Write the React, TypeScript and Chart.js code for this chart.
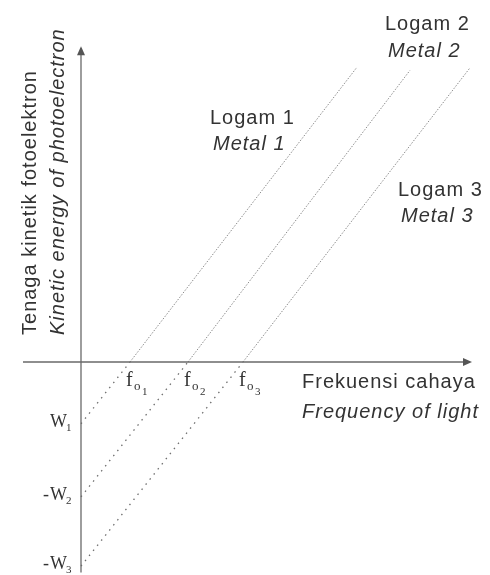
import React, { useEffect, useRef } from "react";
import { Chart, registerables } from "chart.js";

Chart.register(...registerables);

// ---- Data (arbitrary units: x = frequency, y = kinetic energy) ----
const metalIds = ["1", "2", "3"];
const logamLabels = ["Logam 1", "Logam 2", "Logam 3"];
const metalLabels = ["Metal 1", "Metal 2", "Metal 3"];
const thresholdFreq = [0.98, 2.14, 3.24]; // f0 where line crosses the frequency axis
const workFunction = [0.98, 2.14, 3.24]; // |W| intercept on the energy axis
const endFreq = [5.52, 6.58, 7.78]; // frequency at upper end of each line
const endEnergy = [4.68, 4.63, 4.67]; // energy at upper end of each line
const wSigns = ["", "-", "-"];
const xTitle = ["Frekuensi cahaya", "Frequency of light"];
const yTitle = ["Tenaga kinetik fotoelektron", "Kinetic energy of photoelectron"];

// ---- Layout (data units) ----
const X_RANGE = [-1.62, 8.18];
const Y_RANGE = [-3.381, 5.746];
const X_AXIS_EXTENT = [-1.16, 7.78];
const Y_AXIS_EXTENT = [-3.34, 4.98];
const LABEL_ANCHORS = [
  { x: 2.58, y: 3.87 },
  { x: 6.08, y: 5.35 },
  { x: 6.34, y: 2.73 },
];

const SANS = "'Liberation Sans', Arial, sans-serif";
const SERIF = "'Liberation Serif', 'Times New Roman', serif";
const TEXT = "#333";

const overlayPlugin = {
  id: "physicsOverlay",
  afterDatasetsDraw(chart: any) {
    const ctx: CanvasRenderingContext2D = chart.ctx;
    const xs = chart.scales.x;
    const ys = chart.scales.y;
    const ox = xs.getPixelForValue(0);
    const oy = ys.getPixelForValue(0);

    ctx.save();
    // axes
    ctx.strokeStyle = "#6a6a6a";
    ctx.fillStyle = "#555";
    ctx.lineWidth = 1.3;
    ctx.beginPath();
    ctx.moveTo(ox, ys.getPixelForValue(Y_AXIS_EXTENT[0]));
    ctx.lineTo(ox, ys.getPixelForValue(Y_AXIS_EXTENT[1]));
    ctx.moveTo(xs.getPixelForValue(X_AXIS_EXTENT[0]), oy);
    ctx.lineTo(xs.getPixelForValue(X_AXIS_EXTENT[1]), oy);
    ctx.stroke();
    // arrow heads
    const ty = ys.getPixelForValue(Y_AXIS_EXTENT[1]);
    ctx.beginPath();
    ctx.moveTo(ox, ty - 2);
    ctx.lineTo(ox - 4, ty + 7);
    ctx.lineTo(ox + 4, ty + 7);
    ctx.closePath();
    ctx.fill();
    const tx = xs.getPixelForValue(X_AXIS_EXTENT[1]);
    ctx.beginPath();
    ctx.moveTo(tx + 2, oy);
    ctx.lineTo(tx - 7, oy - 4);
    ctx.lineTo(tx - 7, oy + 4);
    ctx.closePath();
    ctx.fill();

    ctx.fillStyle = TEXT;
    (ctx as any).letterSpacing = "1px";
    ctx.textBaseline = "middle";
    ctx.textAlign = "left";

    // metal labels
    LABEL_ANCHORS.forEach((a, i) => {
      const px = xs.getPixelForValue(a.x);
      const py = ys.getPixelForValue(a.y);
      ctx.font = `20px ${SANS}`;
      ctx.fillText(logamLabels[i], px, py);
      ctx.font = `italic 20px ${SANS}`;
      ctx.fillText(metalLabels[i], px + 3, py + 26);
    });

    // x-axis title
    const xtx = xs.getPixelForValue(4.42);
    ctx.font = `20px ${SANS}`;
    ctx.fillText(xTitle[0], xtx, oy + 20);
    ctx.font = `italic 20px ${SANS}`;
    ctx.fillText(xTitle[1], xtx, oy + 50);

    // y-axis titles (rotated)
    const yStart = oy - 27;
    [ox - 51, ox - 23].forEach((cx, i) => {
      ctx.save();
      ctx.translate(cx, yStart);
      ctx.rotate(-Math.PI / 2);
      ctx.font = i === 0 ? `20px ${SANS}` : `italic 20px ${SANS}`;
      ctx.fillText(yTitle[i], 0, 0);
      ctx.restore();
    });

    (ctx as any).letterSpacing = "0px";
    ctx.textBaseline = "alphabetic";
    // threshold frequency tick labels
    thresholdFreq.forEach((f, i) => {
      const px = xs.getPixelForValue(f) - 4;
      ctx.font = `20px ${SERIF}`;
      ctx.fillText("f", px, oy + 24);
      ctx.font = `13px ${SERIF}`;
      ctx.fillText("o", px + 8, oy + 28);
      ctx.font = `11px ${SERIF}`;
      ctx.fillText(metalIds[i], px + 16, oy + 33);
    });

    // work function tick labels
    workFunction.forEach((w, i) => {
      const py = ys.getPixelForValue(-w) - 3;
      ctx.font = `18px ${SERIF}`;
      if (wSigns[i]) ctx.fillText("-", ox - 38, py + 6);
      ctx.fillText("W", ox - 31, py + 6);
      ctx.font = `11px ${SERIF}`;
      ctx.fillText(metalIds[i], ox - 15, py + 10);
    });
    ctx.restore();
  },
};

export default function App() {
  const ref = useRef<HTMLCanvasElement | null>(null);

  useEffect(() => {
    if (!ref.current) return;
    const datasets: any[] = [];
    metalIds.forEach((_, i) => {
      datasets.push({
        label: `lower ${i}`,
        data: [
          { x: 0, y: -workFunction[i] },
          { x: thresholdFreq[i], y: 0 },
        ],
        borderColor: "#6f6f6f",
        borderWidth: 1.3,
        borderDash: [1.5, 5],
        pointRadius: 0,
        clip: false,
      });
      datasets.push({
        label: `upper ${i}`,
        data: [
          { x: thresholdFreq[i], y: 0 },
          { x: endFreq[i], y: endEnergy[i] },
        ],
        borderColor: "#8c8c8c",
        borderWidth: 1,
        borderDash: [1.5, 1.5],
        pointRadius: 0,
        clip: false,
      });
    });

    const chart = new Chart(ref.current, {
      type: "line",
      data: { datasets },
      options: {
        animation: false,
        responsive: false,
        maintainAspectRatio: false,
        layout: { padding: 0 },
        plugins: { legend: { display: false }, tooltip: { enabled: false }, title: { display: false } },
        scales: {
          x: { type: "linear", min: X_RANGE[0], max: X_RANGE[1], display: false },
          y: { type: "linear", min: Y_RANGE[0], max: Y_RANGE[1], display: false },
        },
      },
      plugins: [overlayPlugin],
    });
    return () => chart.destroy();
  }, []);

  return (
    <div style={{ position: "fixed", left: 0, top: 0, width: 490, height: 575, background: "#fff" }}>
      <canvas ref={ref} width={490} height={575} style={{ width: 490, height: 575, display: "block" }} />
    </div>
  );
}
